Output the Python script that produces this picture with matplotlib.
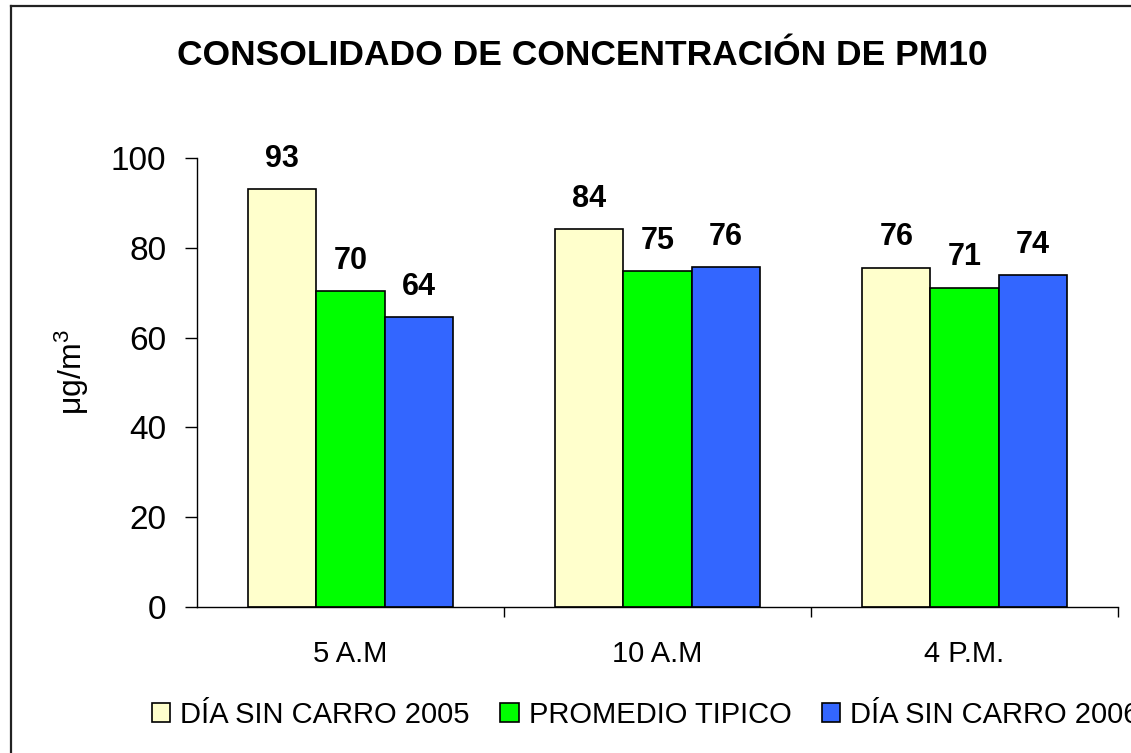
import numpy as np
import matplotlib
matplotlib.use("Agg")
import matplotlib.pyplot as plt
from matplotlib.lines import Line2D

plt.rcParams['font.family'] = ['Liberation Sans', 'DejaVu Sans']
plt.rcParams['mathtext.fontset'] = 'custom'
plt.rcParams['mathtext.rm'] = 'Liberation Sans'
plt.rcParams['mathtext.it'] = 'Liberation Sans'

# data
categories = ["5 A.M", "10 A.M", "4 P.M."]
series = ["DÍA SIN CARRO 2005", "PROMEDIO TIPICO", "DÍA SIN CARRO 2006"]
dia_2005 = [93.0, 84.1, 75.6]
promedio = [70.3, 74.8, 71.1]
dia_2006 = [64.5, 75.7, 73.9]
yticks = [0, 20, 40, 60, 80, 100]

colors = ["#FFFFCC", "#00FF00", "#3366FF"]

fig = plt.figure(figsize=(11.31, 7.53), dpi=100)
ax = fig.add_axes([197/1131, 1-607/753, (1118-197)/1131, (607-158)/753])

x = np.arange(len(categories))
w = 0.222
for i, (vals, lab, col) in enumerate(zip([dia_2005, promedio, dia_2006], series, colors)):
    bars = ax.bar(x + (i-1)*w, vals, w, color=col, edgecolor="black", linewidth=1.2, label=lab)
    ax.bar_label(bars, fmt="{:.0f}", padding=11, fontsize=22, fontweight="bold")

ax.set_xlim(-0.5, 2.5)
ax.set_ylim(0, 100)
ax.set_yticks(yticks)
ax.tick_params(axis="y", labelsize=24, length=9, width=1, pad=13, direction="out")
ax.set_xticks(x)
ax.set_xticklabels(categories)
ax.set_xticks([0.5, 1.5, 2.5], minor=True)
ax.tick_params(axis="x", which="major", labelsize=21, length=0, pad=24)
ax.tick_params(axis="x", which="minor", length=7, width=1, direction="out")

for s in ["top", "right"]:
    ax.spines[s].set_visible(False)
for s in ["left", "bottom"]:
    ax.spines[s].set_linewidth(1)
    ax.spines[s].set_color("black")

fig.text(0.515, 1-65/753, "CONSOLIDADO DE CONCENTRACIÓN DE PM10",
         ha="center", va="baseline", fontsize=25.5, fontweight="bold")
fig.text(72/1131, 1-372/753, r"μg/m$^3$", rotation=90, ha="center", va="center", fontsize=23)

fig.legend(loc="center left", bbox_to_anchor=(152/1131, 1-715/753), ncol=3,
           frameon=False, fontsize=21, handlelength=0.62, handleheight=0.62,
           handletextpad=0.35, columnspacing=1.05, borderpad=0, borderaxespad=0)

# outer chart border (cut off at right and bottom)
fig.add_artist(Line2D([11/1131, 11/1131], [0, 1-6/753], color="#222222", linewidth=1.6))
fig.add_artist(Line2D([11/1131, 1], [1-6/753, 1-6/753], color="#222222", linewidth=1.6))

fig.savefig("out.png", dpi=100)
